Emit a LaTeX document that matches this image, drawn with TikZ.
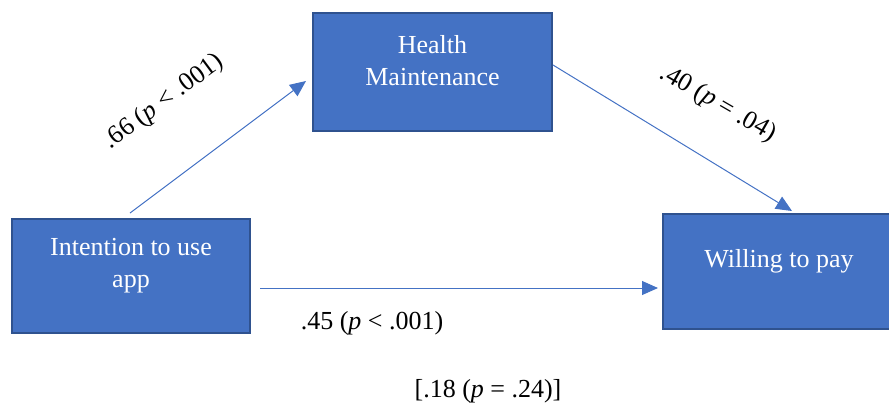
\documentclass[tikz,border=0pt]{standalone}
\usepackage{fontspec}
\setmainfont{Liberation Serif}
\usetikzlibrary{arrows.meta}
\definecolor{boxfill}{HTML}{4472C4}
\definecolor{boxedge}{HTML}{2F528F}
\begin{document}
\begin{tikzpicture}[x=1pt,y=-1pt,
  box/.style={draw=boxedge,fill=boxfill,line width=2pt},
  boxtext/.style={text=white,align=center,font=\fontsize{26}{32}\selectfont},
  lbl/.style={font=\fontsize{26}{32}\selectfont,inner sep=0pt},
  conn/.style={draw=boxfill,line width=1pt,-{Triangle[length=16pt,width=14pt]}}]
\useasboundingbox (0,0) rectangle (889,405);
% boxes
\draw[box] (313,13) rectangle (552,131);
\draw[box] (12,219) rectangle (250,333);
\draw[box] (663,214) rectangle (895,329);
\node[boxtext] (hm) at (432.5,61) {Health\\Maintenance};
\node[boxtext] (it) at (131,266) {Intention to use\\app};
\node[boxtext] (wp) at (779,261) {Willing to pay};
% anchor coordinates
\coordinate (a1s) at (130,213);
\coordinate (a1e) at (306,81);
\coordinate (a2s) at (553,65);
\coordinate (a2e) at (792,211);
\coordinate (a3s) at (260,288);
\coordinate (a3e) at (658,288);
\draw[conn] (a1s) -- (a1e);
\draw[conn] (a2s) -- (a2e);
\draw[conn] (a3s) -- (a3e);
% labels
\node[lbl,rotate=36.6] (l1) at (164,102) {.66 (\textit{p} < .001)};
\node[lbl,rotate=-30] (l2) at (718,104) {.40 (\textit{p} = .04)};
\node[lbl] (l3) at (372,323) {.45 (\textit{p} < .001)};
\node[lbl] (l4) at (488,391) {[.18 (\textit{p} = .24)]};
\end{tikzpicture}
\end{document}
